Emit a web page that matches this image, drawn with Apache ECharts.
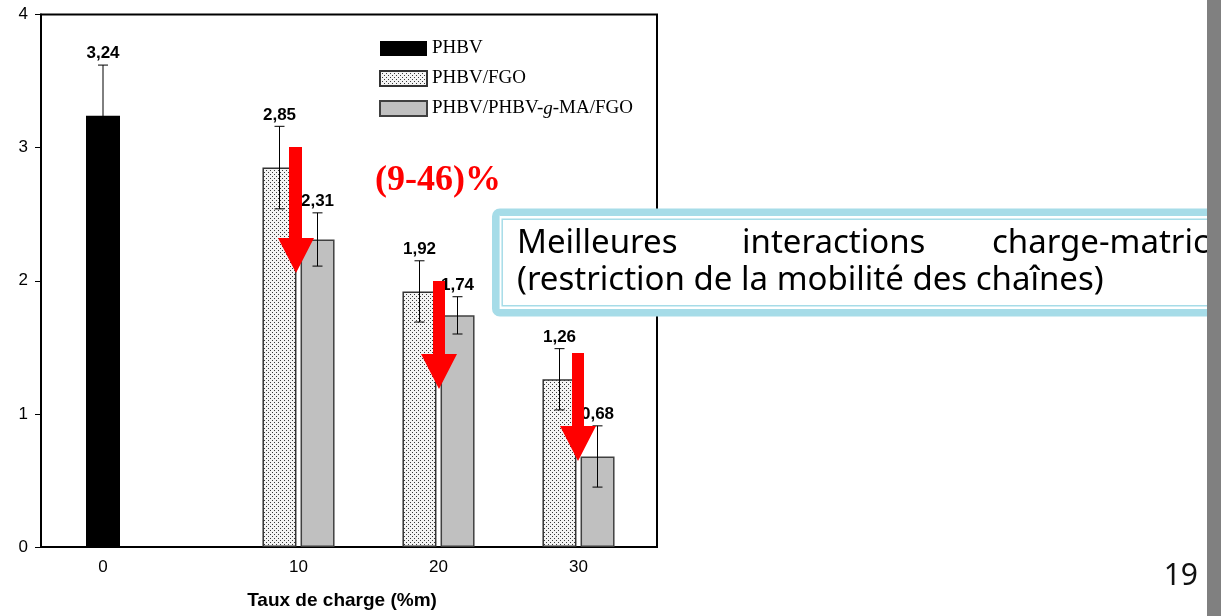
<!DOCTYPE html>
<html>
<head>
<meta charset="utf-8">
<script src="https://cdn.jsdelivr.net/npm/echarts@6.0.0/dist/echarts.min.js"></script>
<style>
  html, body { margin: 0; padding: 0; background: #ffffff; }
  #chart { width: 1221px; height: 616px; }
</style>
</head>
<body>
<div id="chart"></div>
<script>
// ---- data ----
const categories = ['0', '10', '20', '30'];
const seriesNames = ['PHBV', 'PHBV/FGO', 'PHBV/PHBV-g-MA/FGO'];
const phbv    = [3.24, null, null, null];
const phbvErr = [0.38, null, null, null];
const fgo     = [null, 2.85, 1.92, 1.26];
const fgoErr  = [null, 0.31, 0.23, 0.23];
const ma      = [null, 2.31, 1.74, 0.68];
const maErr   = [null, 0.20, 0.14, 0.23];
const yTicks  = [0, 1, 2, 3, 4];
const xTitle  = 'Taux de charge (%m)';
const boxLine1 = ['Meilleures', 'interactions', 'charge-matrice'];
const boxLine2 = '(restriction de la mobilité des chaînes)';
const reductionText = '(9-46)%';
const slideNumber = '19';

// ---- dotted pattern for PHBV/FGO ----
const pc = document.createElement('canvas');
pc.width = 4; pc.height = 4;
const pctx = pc.getContext('2d');
pctx.fillStyle = '#f4f4f4';
pctx.fillRect(0, 0, 4, 4);
pctx.fillStyle = '#3a3a3a';
pctx.fillRect(0, 0, 1, 1);
pctx.fillRect(2, 2, 1, 1);
const dotPattern = { image: pc, repeat: 'repeat' };

const fmt = v => v.toFixed(2).replace('.', ',');

// split categories: "0" alone, the loaded samples together
const cat0 = categories.slice(0, 1);
const catLoaded = categories.slice(1);

function errData(vals, errs, from, to) {
  const out = [];
  for (let i = from; i < to; i++) {
    if (vals[i] != null) out.push([i - from, vals[i], errs[i]]);
  }
  return out;
}

function errRender(offset) {
  return function (params, api) {
    const x = api.value(0), v = api.value(1), e = api.value(2);
    const hi = api.coord([x, v + e]);
    const lo = api.coord([x, v - e]);
    const cx = hi[0] + offset;
    const cap = 5;
    const ls = { stroke: '#000', lineWidth: 1 };
    return {
      type: 'group',
      children: [
        { type: 'line', shape: { x1: cx, y1: hi[1], x2: cx, y2: lo[1] }, style: ls },
        { type: 'line', shape: { x1: cx - cap, y1: hi[1], x2: cx + cap, y2: hi[1] }, style: ls },
        { type: 'line', shape: { x1: cx - cap, y1: lo[1], x2: cx + cap, y2: lo[1] }, style: ls },
        { type: 'text', x: cx, y: hi[1] - 3,
          style: { text: fmt(v), fill: '#000', fontFamily: 'Liberation Sans', fontWeight: 'bold',
                   fontSize: 17, align: 'center', verticalAlign: 'bottom' } }
      ]
    };
  };
}

function arrow(sl, sr, top, hs, hl, hr, tipx, tipy) {
  return {
    type: 'polygon', z: 100,
    shape: { points: [[sl, top], [sr, top], [sr, hs], [hr, hs], [tipx, tipy], [hl, hs], [sl, hs]] },
    style: { fill: '#ff0000' }
  };
}

const chart = echarts.init(document.getElementById('chart'), null, { renderer: 'canvas' });

const GT = 14.5, GH = 532.5;
const yHidden = { type: 'value', min: yTicks[0], max: yTicks[yTicks.length - 1], show: false };

const option = {
  animation: false,
  backgroundColor: '#ffffff',
  grid: [
    { left: 41, top: GT, width: 616, height: GH, show: true, borderColor: '#000', borderWidth: 2, backgroundColor: 'transparent' },
    { left: 41, top: GT, width: 124, height: GH },
    { left: 228.5, top: GT, width: 420, height: GH }
  ],
  xAxis: [
    { gridIndex: 0, type: 'value', min: 0, max: 1, position: 'bottom',
      axisLine: { show: true, lineStyle: { color: '#000', width: 2 } },
      axisTick: { show: false }, axisLabel: { show: false }, splitLine: { show: false },
      name: xTitle, nameLocation: 'middle', nameGap: 44,
      nameTextStyle: { fontFamily: 'Liberation Sans', fontWeight: 'bold', fontSize: 19, color: '#000', padding: [0, 14, 0, 0] } },
    { gridIndex: 1, type: 'category', data: cat0,
      axisLine: { show: false }, axisTick: { show: false },
      axisLabel: { fontFamily: 'Liberation Sans', fontSize: 17, color: '#000', margin: 12 } },
    { gridIndex: 2, type: 'category', data: catLoaded,
      axisLine: { show: false }, axisTick: { show: false },
      axisLabel: { fontFamily: 'Liberation Sans', fontSize: 17, color: '#000', margin: 12 } }
  ],
  yAxis: [
    { gridIndex: 0, type: 'value', min: yTicks[0], max: yTicks[yTicks.length - 1], interval: 1,
      axisLine: { show: true, lineStyle: { color: '#000', width: 2 } },
      axisTick: { show: true, inside: false, length: 6, lineStyle: { color: '#000', width: 1 } },
      axisLabel: { fontFamily: 'Liberation Sans', fontSize: 17, color: '#000', margin: 13 },
      splitLine: { show: false } },
    Object.assign({ gridIndex: 1 }, yHidden),
    Object.assign({ gridIndex: 2 }, yHidden)
  ],
  legend: {
    data: seriesNames.map(n => ({ name: n, icon: 'rect' })),
    orient: 'vertical', left: 379, top: 39, itemWidth: 47, itemHeight: 15, itemGap: 11,
    padding: 0, selectedMode: false,
    formatter: n => n.replace('-g-', '-{it|g}-'),
    textStyle: { fontFamily: 'Liberation Serif', fontSize: 19, color: '#000',
      rich: { it: { fontFamily: 'Liberation Serif', fontSize: 19, fontStyle: 'italic', color: '#000' } } }
  },
  series: [
    { name: seriesNames[0], type: 'bar', xAxisIndex: 1, yAxisIndex: 1, barWidth: 34,
      data: phbv.slice(0, 1), itemStyle: { color: '#000', borderColor: '#000', borderWidth: 0, borderRadius: 0 } },
    { name: seriesNames[1], type: 'bar', xAxisIndex: 2, yAxisIndex: 2, barWidth: 34, barGap: '12%',
      data: fgo.slice(1), itemStyle: { color: dotPattern, borderColor: '#333', borderWidth: 1.5, borderRadius: 0 } },
    { name: seriesNames[2], type: 'bar', xAxisIndex: 2, yAxisIndex: 2, barWidth: 34, barGap: '12%',
      data: ma.slice(1), itemStyle: { color: '#c0c0c0', borderColor: '#404040', borderWidth: 1.5, borderRadius: 0 } },
    { name: 'err-phbv', type: 'custom', xAxisIndex: 1, yAxisIndex: 1, z: 5,
      renderItem: errRender(0), data: errData(phbv, phbvErr, 0, 1) },
    { name: 'err-fgo', type: 'custom', xAxisIndex: 2, yAxisIndex: 2, z: 5,
      renderItem: errRender(-19), data: errData(fgo, fgoErr, 1, 4) },
    { name: 'err-ma', type: 'custom', xAxisIndex: 2, yAxisIndex: 2, z: 5,
      renderItem: errRender(19), data: errData(ma, maErr, 1, 4) }
  ],
  graphic: { elements: [
    arrow(289, 302, 147, 238, 278, 314, 296, 273),
    arrow(433, 445, 281, 354, 421, 457, 439, 389),
    arrow(572, 584, 353, 426, 560, 596, 578, 461),
    { type: 'text', z: 100, x: 375, y: 181,
      style: { text: reductionText, fill: '#ff0000', fontFamily: 'Liberation Serif', fontWeight: 'bold',
               fontSize: 36, align: 'left', verticalAlign: 'middle' } },
    { type: 'rect', z: 100, shape: { x: 495.8, y: 212.2, width: 900, height: 100.5, r: 4 },
      style: { fill: '#ffffff', stroke: '#a6dce8', lineWidth: 7.6 } },
    { type: 'rect', z: 101, shape: { x: 502.2, y: 219.2, width: 900, height: 86.6 },
      style: { fill: 'none', stroke: '#a6dce8', lineWidth: 1.5 } },
    { type: 'text', z: 102, x: 517, y: 244,
      style: { text: boxLine1[0], fill: '#000', fontFamily: 'Noto Sans', fontSize: 33, align: 'left', verticalAlign: 'middle' } },
    { type: 'text', z: 102, x: 742, y: 244,
      style: { text: boxLine1[1], fill: '#000', fontFamily: 'Noto Sans', fontSize: 33, align: 'left', verticalAlign: 'middle' } },
    { type: 'text', z: 102, x: 992, y: 244,
      style: { text: boxLine1[2], fill: '#000', fontFamily: 'Noto Sans', fontSize: 33, align: 'left', verticalAlign: 'middle' } },
    { type: 'text', z: 102, x: 517, y: 281,
      style: { text: boxLine2, fill: '#000', fontFamily: 'Noto Sans', fontSize: 33, align: 'left', verticalAlign: 'middle' } },
    { type: 'text', z: 102, x: 1198, y: 576,
      style: { text: slideNumber, fill: '#111', fontFamily: 'Noto Sans', fontSize: 30, align: 'right', verticalAlign: 'middle' } },
    { type: 'rect', z: 110, shape: { x: 1207, y: 0, width: 14, height: 616 },
      style: { fill: '#808080' } }
  ] }
};

chart.setOption(option);
</script>
</body>
</html>
